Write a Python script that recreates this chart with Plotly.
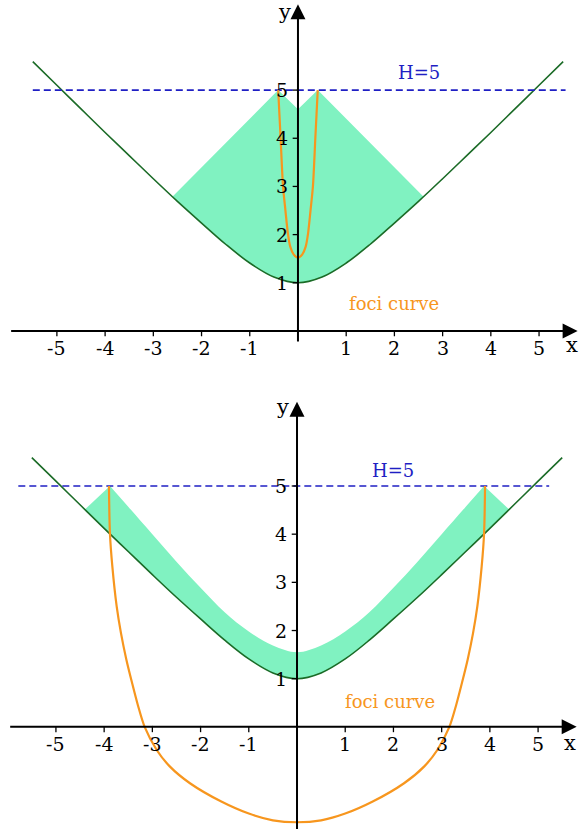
import plotly.graph_objects as go

# hyperbola (both panels)
hyp_x = [-5.5, -5, -4.5, -4, -3.5, -3, -2.5, -2, -1.5, -1, -0.5, 0,
         0.5, 1, 1.5, 2, 2.5, 3, 3.5, 4, 4.5, 5, 5.5]
hyp_y = [5.59, 5.10, 4.61, 4.12, 3.64, 3.16, 2.69, 2.24, 1.80, 1.41, 1.12, 1.00,
         1.12, 1.41, 1.80, 2.24, 2.69, 3.16, 3.64, 4.12, 4.61, 5.10, 5.59]

# top panel: shaded region
top_low_x = [-2.6, -2, -1.5, -1, -0.5, 0, 0.5, 1, 1.5, 2, 2.6]
top_low_y = [2.79, 2.24, 1.80, 1.41, 1.12, 1.00, 1.12, 1.41, 1.80, 2.24, 2.79]
top_up_x = [-2.6, -0.41, 0, 0.41, 2.6]
top_up_y = [2.79, 5.0, 4.6, 5.0, 2.79]

# top panel: foci curve
foci1_x = [-0.41, -0.36, -0.31, -0.26, -0.21, -0.16, -0.09, 0,
           0.09, 0.16, 0.21, 0.26, 0.31, 0.36, 0.41]
foci1_y = [5.0, 4.0, 3.0, 2.5, 2.03, 1.75, 1.59, 1.52,
           1.59, 1.75, 2.03, 2.5, 3.0, 4.0, 5.0]

# bottom panel: shaded band (middle part)
bot_low_x = [-3.88, -3.5, -3, -2.5, -2, -1.5, -1, -0.5, 0,
             0.5, 1, 1.5, 2, 2.5, 3, 3.5, 3.88]
bot_low_y = [4.01, 3.64, 3.16, 2.69, 2.24, 1.80, 1.41, 1.12, 1.00,
             1.12, 1.41, 1.80, 2.24, 2.69, 3.16, 3.64, 4.01]
bot_up_x = [-3.88, -3.5, -3, -2.5, -2, -1.5, -1, -0.5, 0,
            0.5, 1, 1.5, 2, 2.5, 3, 3.5, 3.88]
bot_up_y = [5.0, 4.57, 4.0, 3.43, 2.89, 2.38, 1.98, 1.69, 1.55,
            1.69, 1.98, 2.38, 2.89, 3.43, 4.0, 4.57, 5.0]
# band end pieces beyond the foci curve tips
corner_l_x = [-4.4, -3.88, -3.84, -3.84]
corner_l_y = [4.51, 5.0, 4.95, 3.96]
corner_r_x = [4.4, 3.88, 3.84, 3.84]
corner_r_y = [4.51, 5.0, 4.95, 3.96]

# bottom panel: foci curve
foci2_x = [-3.9, -3.88, -3.83, -3.74, -3.65, -3.54, -3.42, -3.30, -3.16, -2.91, -2.64, -2.22,
           -1.57, -1.0, -0.5, 0,
           0.5, 1.0, 1.57, 2.22, 2.64, 2.91, 3.16, 3.30, 3.42, 3.54, 3.65, 3.74, 3.83, 3.88, 3.9]
foci2_y = [5.0, 4.02, 3.33, 2.5, 1.94, 1.4, 0.91, 0.45, 0.0, -0.48, -0.82, -1.17,
           -1.55, -1.80, -1.94, -1.98,
           -1.94, -1.80, -1.55, -1.17, -0.82, -0.48, 0.0, 0.45, 0.91, 1.4, 1.94, 2.5, 3.33, 4.02, 5.0]

# dashed line H=5
h_top_x = [-5.5, 5.55]
h_bot_x = [-5.78, 5.23]
H = 5

x_ticks = [-5, -4, -3, -2, -1, 1, 2, 3, 4, 5]
y_ticks = [1, 2, 3, 4, 5]

GREEN_FILL = '#80F2C1'
GREEN_LINE = '#1B6B27'
ORANGE = '#F7961E'
BLUE = '#1F1FC4'
FONT = 'DejaVu Serif'

fig = go.Figure()

panels = [
    dict(xa='x', ya='y', low=(top_low_x, top_low_y), up=(top_up_x, top_up_y, 'linear'),
         corners=[], foci=(foci1_x, foci1_y), hx=h_top_x, hlab=(2.5, 5.36), flab=(1.99, 0.56),
         ybot=-0.25, ytop=6.78, xlab=(5.68, -0.29), ylab=(-0.27, 6.62)),
    dict(xa='x2', ya='y2', low=(bot_low_x, bot_low_y), up=(bot_up_x, bot_up_y, 'spline'),
         corners=[(corner_l_x, corner_l_y), (corner_r_x, corner_r_y)],
         foci=(foci2_x, foci2_y), hx=h_bot_x, hlab=(2.0, 5.33), flab=(1.93, 0.52),
         ybot=-2.2, ytop=6.75, xlab=(5.66, -0.33), ylab=(-0.31, 6.65)),
]

annotations = []
shapes = []
for p in panels:
    xa, ya = p['xa'], p['ya']
    # shaded region: lower edge then upper edge filled to it
    fig.add_trace(go.Scatter(x=p['low'][0], y=p['low'][1], mode='lines',
                             line=dict(color=GREEN_FILL, width=0, shape='spline'),
                             xaxis=xa, yaxis=ya, hoverinfo='skip'))
    fig.add_trace(go.Scatter(x=p['up'][0], y=p['up'][1], mode='lines',
                             line=dict(color=GREEN_FILL, width=0, shape=p['up'][2]),
                             fill='tonexty', fillcolor=GREEN_FILL,
                             xaxis=xa, yaxis=ya, hoverinfo='skip'))
    for cx, cy in p['corners']:
        fig.add_trace(go.Scatter(x=cx, y=cy, mode='lines', fill='toself',
                                 fillcolor=GREEN_FILL, line=dict(width=0),
                                 xaxis=xa, yaxis=ya, hoverinfo='skip'))
    fig.add_trace(go.Scatter(x=hyp_x, y=hyp_y, mode='lines',
                             line=dict(color=GREEN_LINE, width=1.6, shape='spline'),
                             xaxis=xa, yaxis=ya))
    fig.add_trace(go.Scatter(x=p['hx'], y=[H, H], mode='lines',
                             line=dict(color=BLUE, width=1.6, dash='7px,4px'),
                             xaxis=xa, yaxis=ya))
    fig.add_trace(go.Scatter(x=p['foci'][0], y=p['foci'][1], mode='lines',
                             line=dict(color=ORANGE, width=2.2, shape='spline', smoothing=0.8),
                             xaxis=xa, yaxis=ya))

    # axes with arrows
    annotations.append(dict(x=5.8, y=0, ax=-5.98, ay=0, xref=xa, yref=ya, axref=xa, ayref=ya,
                            text='', showarrow=True, arrowhead=2, arrowsize=1.5,
                            arrowwidth=2, arrowcolor='black'))
    annotations.append(dict(x=0, y=p['ytop'], ax=0, ay=p['ybot'], xref=xa, yref=ya,
                            axref=xa, ayref=ya, text='', showarrow=True, arrowhead=2,
                            arrowsize=1.5, arrowwidth=2, arrowcolor='black'))
    for t in x_ticks:
        shapes.append(dict(type='line', x0=t, x1=t, y0=0.02, y1=-0.11, xref=xa, yref=ya,
                           line=dict(color='black', width=1.3)))
        annotations.append(dict(x=t, y=-0.35, xref=xa, yref=ya, text=str(t),
                                showarrow=False, font=dict(family=FONT, size=19, color='black'),
                                xanchor='center', yanchor='middle'))
    for t in y_ticks:
        shapes.append(dict(type='line', x0=-0.11, x1=0.0, y0=t, y1=t, xref=xa, yref=ya,
                           line=dict(color='black', width=1.3)))
        annotations.append(dict(x=-0.17, y=t, xref=xa, yref=ya, text=str(t), showarrow=False,
                                font=dict(family=FONT, size=19, color='black'),
                                xanchor='right', yanchor='middle'))
    annotations.append(dict(x=p['xlab'][0], y=p['xlab'][1], xref=xa, yref=ya, text='x',
                            showarrow=False, font=dict(family=FONT, size=21, color='black'),
                            xanchor='center', yanchor='middle'))
    annotations.append(dict(x=p['ylab'][0], y=p['ylab'][1], xref=xa, yref=ya, text='y',
                            showarrow=False, font=dict(family=FONT, size=21, color='black'),
                            xanchor='center', yanchor='middle'))
    annotations.append(dict(x=p['hlab'][0], y=p['hlab'][1], xref=xa, yref=ya, text='H=5',
                            showarrow=False, font=dict(family=FONT, size=18, color=BLUE),
                            xanchor='center', yanchor='middle'))
    annotations.append(dict(x=p['flab'][0], y=p['flab'][1], xref=xa, yref=ya, text='foci curve',
                            showarrow=False, font=dict(family=FONT, size=18, color=ORANGE),
                            xanchor='center', yanchor='middle'))

hidden = dict(visible=False, showgrid=False, zeroline=False, fixedrange=True)
fig.update_layout(
    width=581, height=829,
    margin=dict(l=0, r=0, t=0, b=0),
    paper_bgcolor='white', plot_bgcolor='white',
    showlegend=False,
    xaxis=dict(hidden, range=[-6.18, 5.87], domain=[0, 1], anchor='y'),
    yaxis=dict(hidden, range=[-0.81, 6.87], domain=[0.5537, 1], anchor='x'),
    xaxis2=dict(hidden, range=[-6.16, 5.89], domain=[0, 1], anchor='y2'),
    yaxis2=dict(hidden, range=[-2.12, 7.2], domain=[0, 0.5416], anchor='x2'),
    annotations=annotations,
    shapes=shapes,
)

# page body has a default 8px margin; drop it so the figure fills the window
fig.write_html("out.html", config={'displayModeBar': False},
               post_script="document.body.style.margin='0';")
